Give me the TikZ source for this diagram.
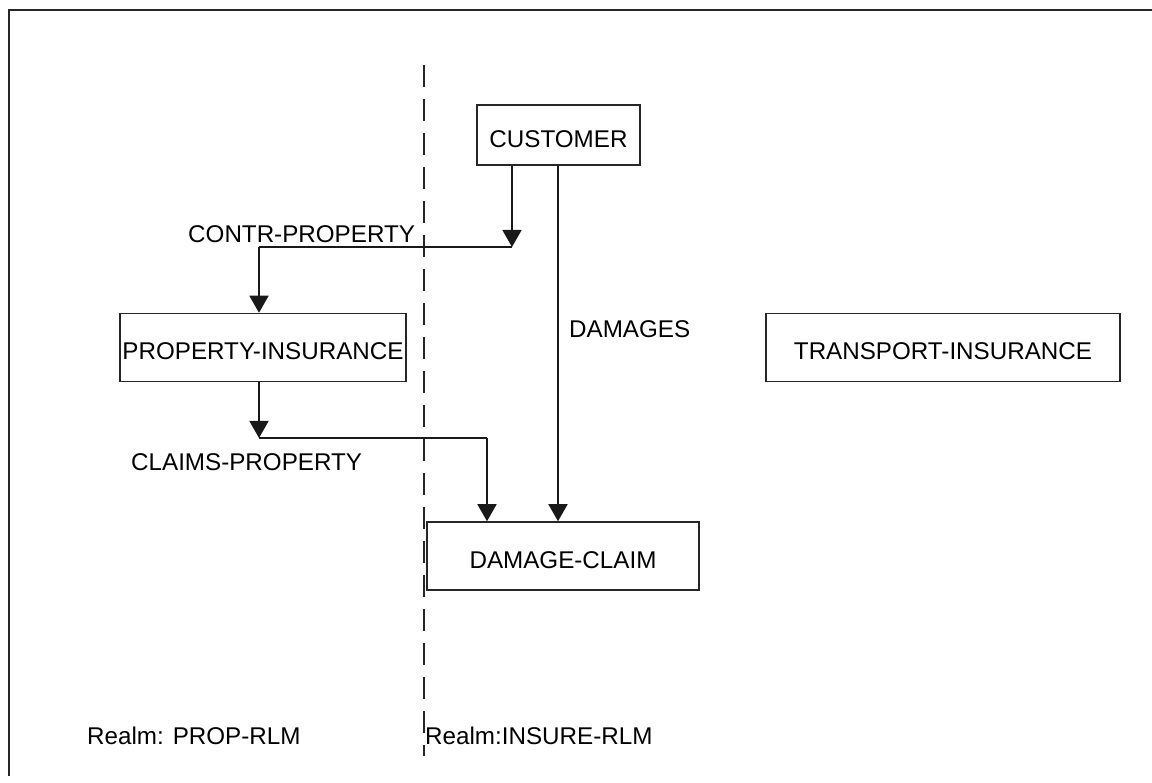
\documentclass[tikz,border=0pt]{standalone}
\usepackage{fontspec}
\setmainfont{Liberation Sans}
\usetikzlibrary{arrows.meta, positioning, calc}

\begin{document}
\begin{tikzpicture}[
  x=1pt, y=-1pt,
  font=\fontsize{24.2}{28}\selectfont,
  record/.style={
    rectangle, draw=black!85, line width=1.5pt, inner sep=0pt,
    minimum height=68pt, text height=25pt, text depth=0pt, align=center
  },
  label/.style={inner sep=0pt, anchor=base west},
  link/.style={line width=1.5pt, black!90},
  flow/.style={link, -{Triangle[length=17pt, width=19pt]}},
  realm/.style={black!85, line width=1.5pt, dash pattern=on 22pt off 12pt},
]
\useasboundingbox (0,0) rectangle (1152,783);

% Frame (top and left edges only)
\draw[line width=2pt, black!85] (1152,10) -- (9,10) -- (9,776);

% Realm boundary
\coordinate (rtop) at (424,65);
\coordinate (rbot) at (424,756);
\draw[realm] (rtop) -- (rbot);

% Records
\node[record, minimum width=163pt, minimum height=60pt] (cust) at (558.5,135) {CUSTOMER};
\node[record, minimum width=286pt] (propins) at (263,347.5) {PROPERTY-INSURANCE};
\node[record, minimum width=272pt] (dmg) at (563,556) {DAMAGE-CLAIM};
\node[record, minimum width=354pt] (trans) at (943,347.5) {TRANSPORT-INSURANCE};

% Set CONTR-PROPERTY
\coordinate (cpown) at (512,247);
\coordinate (cpmem) at (259,247);
\draw[flow] (cust.south -| cpown) -- (cpown);
\draw[link] (cpown) -- (cpmem);
\draw[flow] (cpmem) -- (propins.north -| cpmem);
\node[label] (cplab) at (188,243) {CONTR-PROPERTY};

% Set CLAIMS-PROPERTY
\coordinate (clown) at (259,438);
\coordinate (clmem) at (487,438);
\draw[flow] (propins.south -| clown) -- (clown);
\draw[link] (clown) -- (clmem);
\draw[flow] (clmem) -- (dmg.north -| clmem);
\node[label] (cllab) at (131,471) {CLAIMS-PROPERTY};

% Set DAMAGES
\coordinate (dmown) at (558,165);
\draw[flow] (cust.south -| dmown) -- (dmg.north -| dmown);
\node[label] (dmlab) at (569,338) {DAMAGES};

% Realm names
\node[label] (plab) at (87,744) {Realm: PROP-RLM};
\node[label] (ilab) at (425,744) {Realm:INSURE-RLM};

\end{tikzpicture}
\end{document}
